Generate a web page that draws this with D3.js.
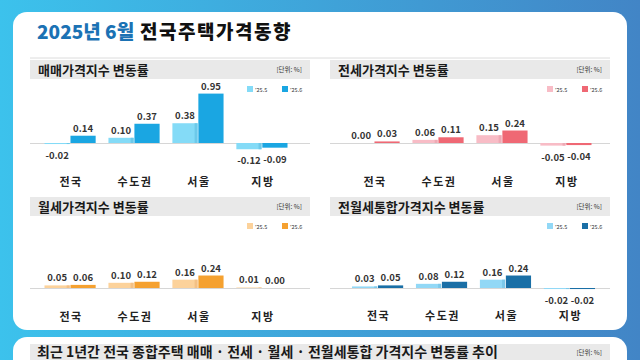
<!DOCTYPE html>
<html><head><meta charset="utf-8">
<script src="https://cdn.jsdelivr.net/npm/d3@7/dist/d3.min.js"></script>
<style>html,body{margin:0;padding:0;background:#fff;}svg{display:block;}</style>
</head><body>
<script>
const categories = ['전국', '수도권', '서울', '지방'];
const seriesLabels = ["'25.5", "'25.6"];
const saleMay = [-0.02, 0.10, 0.38, -0.12];
const saleJun = [0.14, 0.37, 0.95, -0.09];
const jeonseMay = [0.00, 0.06, 0.15, -0.05];
const jeonseJun = [0.03, 0.11, 0.24, -0.04];
const rentMay = [0.05, 0.10, 0.16, 0.01];
const rentJun = [0.06, 0.12, 0.24, 0.00];
const totalMay = [0.03, 0.08, 0.16, -0.02];
const totalJun = [0.05, 0.12, 0.24, -0.02];
const panelTitles = ['매매가격지수 변동률', '전세가격지수 변동률', '월세가격지수 변동률', '전월세통합가격지수 변동률'];
const mainTitleA = '2025년 6월';
const mainTitleB = ' 전국주택가격동향';
const bottomTitle = '최근 1년간 전국 종합주택 매매 · 전세 · 월세 · 전월세통합 가격지수 변동률 추이';
const unitLabel = '[단위: %]';

const W = 640, H = 360;
const FONT = "'Noto Sans CJK KR', 'Noto Sans', sans-serif";
const svg = d3.select('body').append('svg').attr('width', W).attr('height', H)
  .style('font-family', FONT);

const defs = svg.append('defs');
const g = defs.append('linearGradient').attr('id', 'bg').attr('x1', 0).attr('x2', 1).attr('y1', 0).attr('y2', 0);
g.append('stop').attr('offset', 0).attr('stop-color', '#3cc2ec');
g.append('stop').attr('offset', 1).attr('stop-color', '#4285c6');
svg.append('rect').attr('width', W).attr('height', H).attr('fill', 'url(#bg)');

// cards
svg.append('rect').attr('x', 13).attr('y', 12).attr('width', 614).attr('height', 318).attr('rx', 14).attr('fill', '#fff');
svg.append('rect').attr('x', 13).attr('y', 337).attr('width', 614).attr('height', 60).attr('rx', 14).attr('fill', '#fff');

// main title
const t = svg.append('text').attr('x', 37).attr('y', 39).attr('font-size', 19).attr('font-weight', 900);
t.append('tspan').attr('fill', '#1b72b4').text(mainTitleA);
t.append('tspan').attr('fill', '#111').attr('letter-spacing', 1.5).text(mainTitleB);
svg.append('line').attr('x1', 30).attr('x2', 610).attr('y1', 58).attr('y2', 58).attr('stroke', '#dcdcdc').attr('stroke-width', 1);

const panels = [
  { title: panelTitles[0], may: saleMay, jun: saleJun, colors: ['#84dbf7', '#1aa6e2'], shade: '#6cc9ea', x0: 30, bx0: 44.5, top: 60, base: 143, labelY: 186 },
  { title: panelTitles[1], may: jeonseMay, jun: jeonseJun, colors: ['#f8bcc6', '#ef6874'], shade: '#eea9b4', x0: 330, bx0: 348.5, top: 60, base: 143, labelY: 186 },
  { title: panelTitles[2], may: rentMay, jun: rentJun, colors: ['#fcd29b', '#f5a130'], shade: '#f3c085', x0: 30, bx0: 44.5, top: 197, base: 288, labelY: 321 },
  { title: panelTitles[3], may: totalMay, jun: totalJun, colors: ['#92d8f6', '#1a6fa6'], shade: '#7cc8ea', x0: 330, bx0: 352, top: 197, base: 288, labelY: 320 }
];

panels.forEach(p => {
  const pg = svg.append('g');
  const pw = 280;
  pg.append('rect').attr('x', p.x0).attr('y', p.top).attr('width', pw).attr('height', 19).attr('fill', '#e9e9e9');
  pg.append('text').attr('x', p.x0 + 8).attr('y', p.top + 15).attr('font-size', 13).attr('font-weight', 700)
    .attr('fill', '#1a1a1a').text(p.title);
  pg.append('text').attr('x', p.x0 + pw - 8).attr('y', p.top + 12).attr('font-size', 6.5).attr('text-anchor', 'end')
    .attr('fill', '#333').text(unitLabel);

  // legend
  const lx = p.x0 + 217, ly = p.top + 26;
  seriesLabels.forEach((s, i) => {
    pg.append('rect').attr('x', lx + i * 35).attr('y', ly).attr('width', 6).attr('height', 6).attr('fill', p.colors[i]);
    pg.append('text').attr('x', lx + i * 35 + 8).attr('y', ly + 5.5).attr('font-size', 5.5).attr('fill', '#333').text(s);
  });

  const x = d3.scaleBand().domain(categories).range([p.bx0, p.bx0 + 243]).paddingInner(0.2).paddingOuter(0);
  const x1 = d3.scaleBand().domain(seriesLabels).range([0, x.bandwidth()]).paddingInner(0.03);
  const y = d3.scaleLinear().domain([0, 1]).range([p.base, p.base - 52]);

  // axis line
  pg.append('line').attr('x1', p.x0).attr('x2', p.x0 + pw).attr('y1', p.base + 0.5).attr('y2', p.base + 0.5)
    .attr('stroke', '#d6d6d6').attr('stroke-width', 1);

  const data = [];
  categories.forEach((c, ci) => {
    data.push({ c, s: seriesLabels[0], v: p.may[ci], i: 0 });
    data.push({ c, s: seriesLabels[1], v: p.jun[ci], i: 1 });
  });

  data.forEach(d => {
    const bx = x(d.c) + x1(d.s), bw = x1.bandwidth();
    const y0 = y(0), yv = y(d.v);
    const top = Math.min(y0, yv), h = Math.abs(y0 - yv);
    if (h > 0) {
      pg.append('rect').attr('x', bx).attr('y', top).attr('width', bw).attr('height', h).attr('fill', p.colors[d.i]);
      if (d.i === 0) {
        pg.append('rect').attr('x', bx + bw - 3).attr('y', top).attr('width', 3).attr('height', h).attr('fill', p.shade);
      }
    }
    const ly2 = d.v < 0 ? yv + 15 : yv - 4;
    pg.append('text').attr('x', bx + bw / 2).attr('y', ly2).attr('text-anchor', 'middle')
      .attr('font-size', 9.5).attr('font-weight', 700).attr('fill', '#333').text(d.v.toFixed(2));
  });

  categories.forEach(c => {
    pg.append('text').attr('x', x(c) + x.bandwidth() / 2 + 1).attr('y', p.labelY).attr('text-anchor', 'middle')
      .attr('font-size', 11).attr('font-weight', 700).attr('letter-spacing', 1.5).attr('fill', '#222').text(c);
  });
});

// bottom card header
svg.append('rect').attr('x', 30).attr('y', 344).attr('width', 580).attr('height', 20).attr('fill', '#e9e9e9');
svg.append('text').attr('x', 37).attr('y', 357).attr('font-size', 14).attr('font-weight', 700).attr('fill', '#1a1a1a').text(bottomTitle);
svg.append('text').attr('x', 602).attr('y', 355).attr('font-size', 6.5).attr('text-anchor', 'end').attr('fill', '#333').text(unitLabel);
</script>
</body></html>
